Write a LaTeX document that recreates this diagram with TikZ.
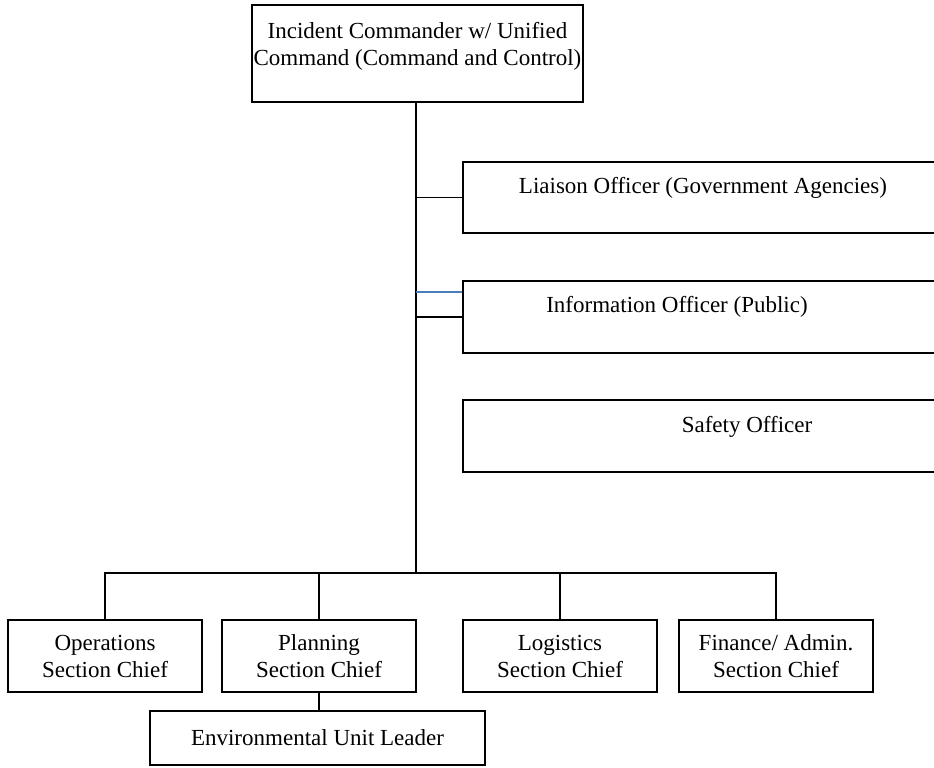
\documentclass[tikz,border=0pt]{standalone}
\usepackage{fontspec}
\setmainfont{Liberation Serif}
\usetikzlibrary{calc}
\definecolor{lineblue}{HTML}{4A7EBB}
\begin{document}
\begin{tikzpicture}[x=1pt,y=-1pt,
  box/.style={draw, line width=1.8pt, rectangle, inner sep=0pt},
  txt/.style={font=\fontsize{23}{27}\selectfont, align=center, inner sep=0pt},
  conn/.style={line width=1.8pt},
  blueconn/.style={line width=1.5pt, draw=lineblue}]
\useasboundingbox (0,0) rectangle (934,768);
\clip (0,0) rectangle (934,768);
% boxes
\node[box, minimum width=331, minimum height=97] (ic) at (417.5,53.5) {};
\node[txt] (ict) at (417.5,46) {Incident Commander w/ Unified\\Command (Command and Control)};
\node[box, minimum width=497, minimum height=71] (liaison) at (711.5,197.5) {};
\node[txt] (liat) at (703,188) {Liaison Officer (Government Agencies)};
\node[box, minimum width=497, minimum height=72] (info) at (711.5,317) {};
\node[txt] (infot) at (677,307) {Information Officer (Public)};
\node[box, minimum width=497, minimum height=72] (safety) at (711.5,436) {};
\node[txt] (safet) at (747,427) {Safety Officer};
\node[box, minimum width=194, minimum height=72, txt, draw] (ops) at (105,656) {Operations\\Section Chief};
\node[box, minimum width=194, minimum height=72, txt, draw] (plan) at (319,656) {Planning\\Section Chief};
\node[box, minimum width=194, minimum height=72, txt, draw] (log) at (560,656) {Logistics\\Section Chief};
\node[box, minimum width=194, minimum height=72, txt, draw] (fin) at (776,656) {Finance/ Admin.\\Section Chief};
\node[box, minimum width=335, minimum height=54, txt, draw] (env) at (317.5,738) {Environmental Unit Leader};
% connectors
\coordinate (bus) at (416,573);
\draw[conn] (ic.south -| bus) -- (bus);
\draw[conn] (bus |- liaison.west) -- (liaison.west);
\draw[blueconn] (bus |- {$(info.north west)+(0,12)$}) -- ($(info.north west)+(0,12)$);
\draw[conn] (bus |- info.west) -- (info.west);
\draw[conn] (ops.north) -- (ops.north |- bus) -- (fin.north |- bus) -- (fin.north);
\draw[conn] (plan.north) -- (plan.north |- bus);
\draw[conn] (log.north) -- (log.north |- bus);
\draw[conn] (plan.south) -- (plan.south |- env.north);
\end{tikzpicture}
\end{document}
